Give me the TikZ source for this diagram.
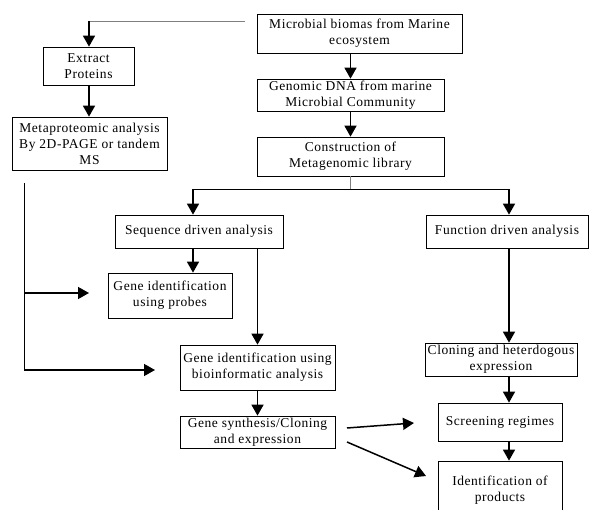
\documentclass[tikz,border=0pt]{standalone}
\usepackage{fontspec}
\setmainfont[LetterSpace=4]{Liberation Serif}
\usetikzlibrary{arrows.meta,positioning,calc}

\tikzset{
    box/.style={draw, line width=0.7pt, align=center, inner sep=0pt,
        font=\fontsize{13.5}{16}\selectfont},
    arr/.style={-{Triangle[length=11pt,width=12pt]}, line width=1.5pt},
    link/.style={line width=0.9pt},
    greylink/.style={line width=0.9pt, gray}
}

\begin{document}
\begin{tikzpicture}[x=1pt,y=-1pt]
    \useasboundingbox (0,0) rectangle (594,510);

    % Main column
    \node[box, minimum width=205pt, minimum height=39pt] (micro) at (359.5,33.5) {Microbial biomas from Marine\\ecosystem};
    \node[box, minimum width=187pt, minimum height=32pt] (genomic) at (350.5,95) {Genomic DNA from marine\\Microbial Community};
    \node[box, minimum width=187pt, minimum height=39pt] (library) at (350.5,156.5) {Construction of\\Metagenomic library};

    % Proteomic branch
    \node[box, minimum width=91pt, minimum height=38pt] (extract) at (88.5,66) {Extract\\Proteins};
    \node[box, minimum width=155pt, minimum height=53pt] (metaprot) at (89.5,143.5) {Metaproteomic analysis\\By 2D-PAGE or tandem\\MS};

    % Sequence driven
    \node[box, minimum width=168pt, minimum height=33pt] (sequence) at (199,231.5) {Sequence driven analysis};
    \node[box, minimum width=124pt, minimum height=45pt] (probes) at (170,295.5) {Gene identification\\using probes};
    \node[box, minimum width=155pt, minimum height=45pt] (bioinfo) at (257.5,367.5) {Gene identification using\\bioinformatic analysis};
    \node[box, minimum width=155pt, minimum height=32pt] (synth) at (257.5,432) {Gene synthesis/Cloning\\and expression};

    % Function driven
    \node[box, minimum width=162pt, minimum height=33pt] (function) at (507,231.5) {Function driven analysis};
    \node[box, minimum width=152pt, minimum height=33pt] (cloning) at (501,359.5) {Cloning and heterdogous\\expression};
    \node[box, minimum width=124pt, minimum height=38pt] (screen) at (500,422) {Screening regimes};
    \node[box, minimum width=124pt, minimum height=58pt] (ident) at (500,490) {Identification of\\products};

    % Connectors
    \coordinate (topend) at (245,21);
    \coordinate (topcorner) at (89,21);
    \draw[greylink] (topend) -- (topcorner);
    \draw[arr] (topcorner) -- (extract.north -| topcorner);
    \draw[arr] (extract.south -| topcorner) -- (metaprot.north -| topcorner);

    \draw[arr] (micro.south -| genomic) -- (genomic.north);
    \draw[arr] (genomic) -- (library);

    \coordinate (split) at (350.5,189);
    \coordinate (splitleft) at (193,189);
    \coordinate (splitright) at (509,189);
    \draw[greylink] (library.south) -- (split);
    \draw[link] (splitleft) -- (splitright);
    \draw[arr] (splitleft) -- (sequence.north -| splitleft);
    \draw[arr] (splitright) -- (function.north -| splitright);

    \draw[arr] (sequence.south -| splitleft) -- (probes.north -| splitleft);
    \draw[arr] (sequence.south -| bioinfo.north) -- (bioinfo.north);
    \draw[arr] (bioinfo) -- (synth);

    \draw[arr] (function.south -| splitright) -- (cloning.north -| splitright);
    \draw[arr] (cloning.south -| splitright) -- (screen.north -| splitright);
    \draw[arr] (screen.south -| splitright) -- (ident.north -| splitright);

    % Feedback from proteomics
    \coordinate (fbtop) at (24,183);
    \coordinate (fbmid) at (24,293);
    \coordinate (fbbot) at (24,370);
    \coordinate (fbmidtip) at (89,293);
    \coordinate (fbbottip) at (155,370);
    \draw[link] (fbtop) -- (fbbot);
    \draw[arr] (fbmid) -- (fbmidtip);
    \draw[arr] (fbbot) -- (fbbottip);

    % Synthesis to screening
    \coordinate (syna) at (347,428);
    \coordinate (synb) at (347,442);
    \coordinate (screentip) at (414,423);
    \coordinate (identtip) at (426,476);
    \draw[arr] (syna) -- (screentip);
    \draw[arr] (synb) -- (identtip);
\end{tikzpicture}
\end{document}
